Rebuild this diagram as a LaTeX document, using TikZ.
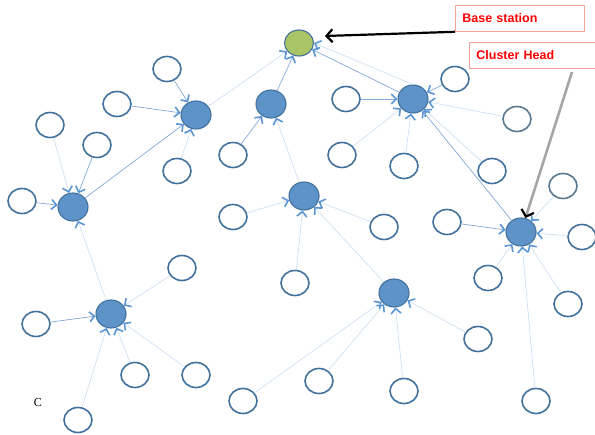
\documentclass[tikz,border=0pt]{standalone}
\usepackage{fontspec}
\usepackage{tikz}
\usetikzlibrary{shapes.geometric}
\usetikzlibrary{arrows.meta}
\usepackage{xcolor}
\newfontfamily\labelfont{Liberation Sans}
\newfontfamily\serifc{Liberation Serif}
\definecolor{nodeblue}{HTML}{41719C}
\definecolor{chfill}{HTML}{5E93C9}
\definecolor{bsfill}{HTML}{A9C566}
\definecolor{tipblue}{HTML}{5B95D3}
\definecolor{linkdark}{HTML}{82A9D9}
\definecolor{linklight}{HTML}{CFE0F2}
\definecolor{boxred}{HTML}{F2A49C}

\begin{document}
\begin{tikzpicture}[x=1pt,y=-1pt,
  sensor/.style={ellipse,draw=nodeblue,line width=1.6pt,minimum width=28pt,minimum height=25pt,inner sep=0pt},
  head/.style={ellipse,draw=nodeblue,fill=chfill,line width=1.1pt,minimum width=30pt,minimum height=28pt,inner sep=0pt},
  base/.style={head,fill=bsfill,minimum width=29pt,minimum height=26pt},
  link/.style={draw=linkdark,line width=0.7pt,-{Straight Barb[length=5pt,width=10pt,line width=1.6pt,color=tipblue]}},
  weaklink/.style={link,draw=linklight},
  labelbox/.style={draw=boxred,fill=white,line width=0.8pt,anchor=north west,text=red,font=\labelfont\bfseries\fontsize{12.5}{15}\selectfont,text width=115pt,inner xsep=7pt,minimum height=26pt}]
  \useasboundingbox (0,0) rectangle (595,435);

  \node[base] (bs) at (299,43) {};
  \node[head] (ch1) at (196,115) {};
  \node[head] (ch2) at (271,104) {};
  \node[head] (ch3) at (413,99) {};
  \node[head] (ch4) at (73,207) {};
  \node[head] (ch5) at (304,196) {};
  \node[head] (ch6) at (521,232) {};
  \node[head] (ch7) at (111,314) {};
  \node[head] (ch8) at (394,293) {};

  \node[sensor] (s1) at (167,69) {};
  \node[sensor] (s2) at (117,104) {};
  \node[sensor] (s3) at (177,171) {};
  \node[sensor] (s4) at (50,125) {};
  \node[sensor] (s5) at (97,145) {};
  \node[sensor] (s6) at (22,201) {};
  \node[sensor] (s7) at (233,155) {};
  \node[sensor] (s8) at (346,99) {};
  \node[sensor] (s9) at (455,79) {};
  \node[sensor,draw=nodeblue!60!gray] (s10) at (517,119) {};
  \node[sensor] (s11) at (342,155) {};
  \node[sensor] (s12) at (404,166) {};
  \node[sensor] (s13) at (492,171) {};
  \node[sensor] (s14) at (233,217) {};
  \node[sensor] (s15) at (384,227) {};
  \node[sensor] (s16) at (295,283) {};
  \node[sensor] (s17) at (447,222) {};
  \node[sensor,draw=nodeblue!60!gray] (s18) at (563,186) {};
  \node[sensor] (s19) at (582,237) {};
  \node[sensor] (s20) at (488,278) {};
  \node[sensor] (s21) at (568,304) {};
  \node[sensor] (s22) at (536,401) {};
  \node[sensor] (s23) at (182,268) {};
  \node[sensor] (s24) at (36,324) {};
  \node[sensor] (s25) at (135,375) {};
  \node[sensor] (s26) at (196,375) {};
  \node[sensor] (s27) at (78,420) {};
  \node[sensor] (s28) at (243,401) {};
  \node[sensor] (s29) at (319,381) {};
  \node[sensor] (s30) at (404,391) {};
  \node[sensor] (s31) at (478,339) {};

  \draw[link] (s1) -- (ch1);
  \draw[link] (s2) -- (ch1);
  \draw[weaklink] (s3) -- (ch1);
  \draw[weaklink] (s4) -- (ch4);
  \draw[link] (s5) -- (ch4);
  \draw[link] (s6) -- (ch4);
  \draw[link] (s7) -- (ch2);
  \draw[link] (s8) -- (ch3);
  \draw[link] (s9) -- (ch3);
  \draw[weaklink] (s10) -- (ch3);
  \draw[weaklink] (s11) -- (ch3);
  \draw[weaklink] (s12) -- (ch3);
  \draw[weaklink] (s13) -- (ch3);
  \draw[weaklink] (s14) -- (ch5);
  \draw[weaklink] (s15) -- (ch5);
  \draw[weaklink] (s16) -- (ch5);
  \draw[link] (s17) -- (ch6);
  \draw[weaklink] (s18) -- (ch6);
  \draw[weaklink] (s19) -- (ch6);
  \draw[weaklink] (s20) -- (ch6);
  \draw[weaklink] (s21) -- (ch6);
  \draw[weaklink] (s22) -- (ch6);
  \draw[weaklink] (s23) -- (ch7);
  \draw[link] (s24) -- (ch7);
  \draw[weaklink] (s25) -- (ch7);
  \draw[weaklink] (s26) -- (ch7);
  \draw[weaklink] (s27) -- (ch7);
  \draw[weaklink] (s28) -- (ch8);
  \draw[weaklink] (s29) -- (ch8);
  \draw[weaklink] (s30) -- (ch8);
  \draw[weaklink] (s31) -- (ch8);

  \draw[link] (ch4) -- (ch1);
  \draw[weaklink] (ch1) -- (bs);
  \draw[link] (ch2) -- (bs);
  \draw[weaklink] (ch5) -- (ch2);
  \draw[link] (ch3) -- (bs);
  \draw[weaklink] (ch3.north) -- (bs.east);
  \draw[link] (ch6) -- (ch3);
  \draw[weaklink] (ch8) -- (ch5);
  \draw[weaklink] (ch7) -- (ch4);

  \node[labelbox] (bslabel) at (455,5) {Base station};
  \node[labelbox] (chlabel) at (469,42) {Cluster Head};
  \coordinate (bstip) at (325,36);
  \coordinate (chtail) at (572,72);
  \draw[black,line width=2.2pt,-{Straight Barb[length=6pt,width=13pt]}] (bslabel.south west) -- (bstip);
  \draw[gray!70,line width=2.6pt,-{Straight Barb[length=6pt,width=13pt,color=black,line width=2.2pt]}] (chtail) -- (ch6);

  \node[font=\serifc\fontsize{12}{14}\selectfont] (caption) at (38,403) {C};
\end{tikzpicture}
\end{document}
